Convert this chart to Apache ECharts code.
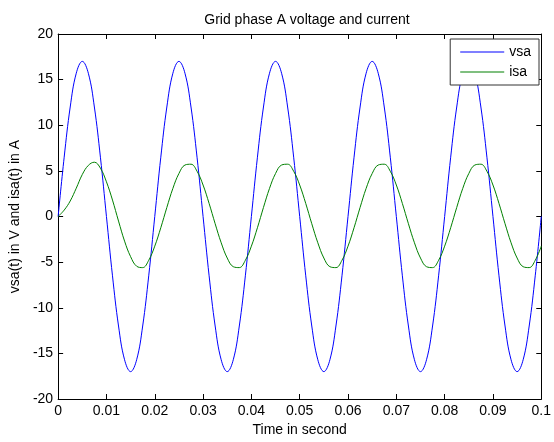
<!DOCTYPE html>
<html>
<head>
    <meta charset="utf-8">
    <title>Grid phase A voltage and current</title>
    <script src="https://cdn.jsdelivr.net/npm/echarts@6/dist/echarts.min.js"></script>
    <style>
        html, body { margin: 0; padding: 0; background: #fff; }
        #chart { width: 554px; height: 442px; }
    </style>
</head>
<body>
    <div id="chart"></div>
    <script type="text/javascript">
        // sample times (s)
        const time = [
            0, 0.00125, 0.0025, 0.00375, 0.005, 0.00625, 0.0075, 0.00875,
            0.01, 0.01125, 0.0125, 0.01375, 0.015, 0.01625, 0.0175, 0.01875,
            0.02, 0.02125, 0.0225, 0.02375, 0.025, 0.02625, 0.0275, 0.02875,
            0.03, 0.03125, 0.0325, 0.03375, 0.035, 0.03625, 0.0375, 0.03875,
            0.04, 0.04125, 0.0425, 0.04375, 0.045, 0.04625, 0.0475, 0.04875,
            0.05, 0.05125, 0.0525, 0.05375, 0.055, 0.05625, 0.0575, 0.05875,
            0.06, 0.06125, 0.0625, 0.06375, 0.065, 0.06625, 0.0675, 0.06875,
            0.07, 0.07125, 0.0725, 0.07375, 0.075, 0.07625, 0.0775, 0.07875,
            0.08, 0.08125, 0.0825, 0.08375, 0.085, 0.08625, 0.0875, 0.08875,
            0.09, 0.09125, 0.0925, 0.09375, 0.095, 0.09625, 0.0975, 0.09875,
            0.1
        ];

        // phase A voltage (V)
        const vsa = [
            0, 6.5, 12.0, 15.7, 17, 15.7, 12.0, 6.5, 0, -6.5, -12.0, -15.7, -17, -15.7, -12.0, -6.5,
            0, 6.5, 12.0, 15.7, 17, 15.7, 12.0, 6.5, 0, -6.5, -12.0, -15.7, -17, -15.7, -12.0, -6.5,
            0, 6.5, 12.0, 15.7, 17, 15.7, 12.0, 6.5, 0, -6.5, -12.0, -15.7, -17, -15.7, -12.0, -6.5,
            0, 6.5, 12.0, 15.7, 17, 15.7, 12.0, 6.5, 0, -6.5, -12.0, -15.7, -17, -15.7, -12.0, -6.5,
            0, 6.5, 12.0, 15.7, 17, 15.7, 12.0, 6.5, 0, -6.5, -12.0, -15.7, -17, -15.7, -12.0, -6.5,
            0
        ];

        // phase A current (A)
        const isa = [
            0, 0.7, 1.7, 3.1, 4.6, 5.6, 5.95, 5.3, 3.8, 1.8, -0.5, -2.7, -4.4, -5.45, -5.6, -4.8,
            -3.25, -1.23, 0.99, 3.08, 4.71, 5.64, 5.73, 4.96, 3.45, 1.43, -0.79, -2.88, -4.55, -5.5, -5.6, -4.8,
            -3.25, -1.23, 0.99, 3.08, 4.71, 5.64, 5.73, 4.96, 3.45, 1.43, -0.79, -2.88, -4.55, -5.5, -5.6, -4.8,
            -3.25, -1.23, 0.99, 3.08, 4.71, 5.64, 5.73, 4.96, 3.45, 1.43, -0.79, -2.88, -4.55, -5.5, -5.6, -4.8,
            -3.25, -1.23, 0.99, 3.08, 4.71, 5.64, 5.73, 4.96, 3.45, 1.43, -0.79, -2.88, -4.55, -5.5, -5.6, -4.8,
            -3.25
        ];

        const xTicks = { min: 0, max: 0.1, interval: 0.01 };
        const yTicks = { min: -20, max: 20, interval: 5 };
        const colors = { vsa: '#0000ff', isa: '#008000' };

        const font = 'Liberation Sans, Arial, sans-serif';
        const fs = 14;
        const chart = echarts.init(document.getElementById('chart'));

        // top / right edges of the box, ticks only
        const boxAxis = function (pos, isX) {
            const ax = {
                type: 'value',
                position: pos,
                axisLine: { show: true, onZero: false, lineStyle: { color: '#000', width: 1 } },
                axisTick: { show: true, inside: true, length: 5, lineStyle: { color: '#000' } },
                axisLabel: { show: false },
                splitLine: { show: false }
            };
            return Object.assign(ax, isX ? xTicks : yTicks);
        };

        const option = {
            animation: false,
            backgroundColor: '#fff',
            textStyle: { fontFamily: font },
            title: {
                text: 'Grid phase A voltage and current',
                left: 302,
                textAlign: 'center',
                top: 8,
                textStyle: { fontSize: fs, fontWeight: 'normal', color: '#000', fontFamily: font }
            },
            legend: {
                orient: 'vertical',
                right: 15,
                top: 39,
                padding: [6, 8, 6, 10],
                itemGap: 6,
                itemWidth: 44,
                itemHeight: 1,
                icon: 'rect',
                borderColor: '#333',
                borderWidth: 1,
                backgroundColor: '#fff',
                selectedMode: false,
                textStyle: { fontSize: fs, color: '#000', fontFamily: font },
                data: [
                    { name: 'vsa', itemStyle: { color: colors.vsa, borderWidth: 0 } },
                    { name: 'isa', itemStyle: { color: colors.isa, borderWidth: 0 } }
                ]
            },
            grid: { left: 58, right: 8, top: 34, bottom: 36 },
            xAxis: [
                Object.assign({
                    type: 'value',
                    position: 'bottom',
                    name: 'Time in second',
                    nameLocation: 'middle',
                    nameGap: 24,
                    nameTextStyle: { fontSize: fs, color: '#000', fontFamily: font },
                    axisLine: { show: true, onZero: false, lineStyle: { color: '#000', width: 1 } },
                    axisTick: { show: true, inside: true, length: 5, lineStyle: { color: '#000' } },
                    axisLabel: { color: '#000', fontSize: fs, margin: 5, fontFamily: font, showMaxLabel: true, showMinLabel: true },
                    splitLine: { show: false }
                }, xTicks),
                boxAxis('top', true)
            ],
            yAxis: [
                Object.assign({
                    type: 'value',
                    position: 'left',
                    name: 'vsa(t) in V and isa(t) in A',
                    nameLocation: 'middle',
                    nameGap: 34,
                    nameTextStyle: { fontSize: fs, color: '#000', fontFamily: font },
                    axisLine: { show: true, onZero: false, lineStyle: { color: '#000', width: 1 } },
                    axisTick: { show: true, inside: true, length: 5, lineStyle: { color: '#000' } },
                    axisLabel: { color: '#000', fontSize: fs, margin: 5, fontFamily: font },
                    splitLine: { show: false }
                }, yTicks),
                boxAxis('right', false)
            ],
            series: [
                {
                    name: 'vsa',
                    type: 'line',
                    data: time.map(function (t, i) { return [t, vsa[i]]; }),
                    smooth: 0.4,
                    symbol: 'none',
                    lineStyle: { color: colors.vsa, width: 1 },
                    itemStyle: { color: colors.vsa }
                },
                {
                    name: 'isa',
                    type: 'line',
                    data: time.map(function (t, i) { return [t, isa[i]]; }),
                    smooth: 0.4,
                    symbol: 'none',
                    lineStyle: { color: colors.isa, width: 1 },
                    itemStyle: { color: colors.isa }
                }
            ]
        };

        chart.setOption(option);
    </script>
</body>
</html>
